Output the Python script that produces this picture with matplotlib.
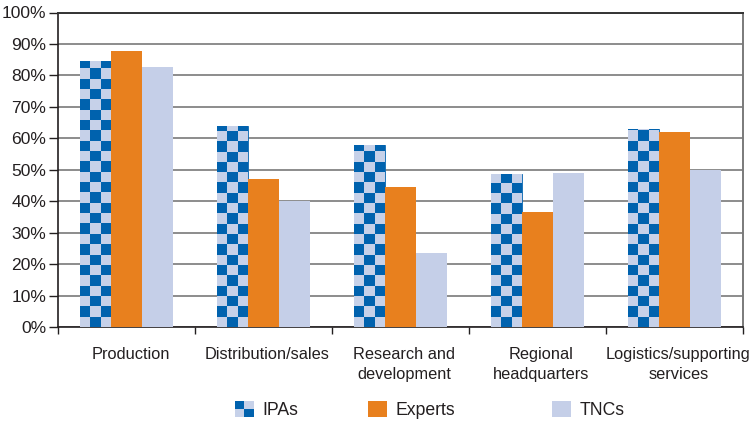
import numpy as np
import matplotlib
matplotlib.use("Agg")
import matplotlib.pyplot as plt
import matplotlib.transforms as mtransforms
from matplotlib.colors import ListedColormap
from matplotlib.patches import Rectangle
from matplotlib.legend_handler import HandlerBase

categories = ["Production", "Distribution/sales", "Research and\ndevelopment",
              "Regional\nheadquarters", "Logistics/supporting\nservices"]
ipas = [84.5, 63.8, 58.0, 48.6, 63.0]
experts = [87.7, 47.0, 44.5, 36.6, 62.0]
tncs = [82.6, 40.0, 23.5, 49.0, 50.0]
yticks = [0, 10, 20, 30, 40, 50, 60, 70, 80, 90, 100]
ytick_labels = [f"{v}%" for v in yticks]

DARK = "#0062AE"
LIGHT = "#C6D1E9"
ORANGE = "#E8801E"
TNC = "#C5CFE8"
GRID = "#8C8C8C"
TEXT = "#231F20"

plt.rcParams['font.family'] = ['Liberation Sans', 'DejaVu Sans']

fig = plt.figure(figsize=(7.53, 4.22), dpi=100)
ax = fig.add_axes([58 / 753, 1 - 327.3 / 422, (742.7 - 58) / 753, (327.3 - 12.5) / 422])

x = np.arange(len(categories))
w = 0.226
ax.set_xlim(-0.5, len(categories) - 0.5)
ax.set_ylim(0, 100)

b_ipa = ax.bar(x - w, ipas, w, color=LIGHT, edgecolor=DARK, linewidth=0.6, zorder=3)
ax.bar(x, experts, w, color=ORANGE, zorder=3)
ax.bar(x + w, tncs, w, color=TNC, zorder=3)

# checkerboard fill of IPA bars
fig.canvas.draw()
px_per_unit_y = ax.transData.transform((0, 1))[1] - ax.transData.transform((0, 0))[1]
px_per_unit_x = ax.transData.transform((1, 0))[0] - ax.transData.transform((0, 0))[0]
cmap = ListedColormap([LIGHT, DARK])
for rect in b_ipa:
    x0, bw, h = rect.get_x(), rect.get_width(), rect.get_height()
    sq_px = bw * px_per_unit_x / 3
    rowh = sq_px / px_per_unit_y
    n = int(np.ceil(h / rowh))
    arr = (np.add.outer(np.arange(n), np.arange(3)) % 2).astype(float)
    im = ax.imshow(arr, cmap=cmap, vmin=0, vmax=1, origin='lower', aspect='auto',
                   extent=(x0, x0 + bw, 0, n * rowh), interpolation='nearest', zorder=3.5)
    im.set_clip_path(rect)
ax.set_xlim(-0.5, len(categories) - 0.5)
ax.set_ylim(0, 100)

ax.set_yticks(yticks)
ax.set_yticklabels(ytick_labels, fontsize=12.6, color=TEXT)
ax.yaxis.grid(True, color=GRID, linewidth=1.4, zorder=0)
ax.set_axisbelow(True)
ax.tick_params(axis='y', length=6.5, width=1, pad=2, color=TEXT)

ax.set_xticks(x)
ax.set_xticklabels(categories, fontsize=11.8, color=TEXT, linespacing=1.45, va='top')
ax.set_xticks(np.arange(-0.5, len(categories)), minor=True)
ax.tick_params(axis='x', which='major', length=0, pad=14)
ax.tick_params(axis='x', which='minor', length=5, width=1, color=TEXT)
offset = mtransforms.ScaledTranslation(4 / 100, 0, fig.dpi_scale_trans)
for lab in ax.get_xticklabels():
    lab.set_transform(lab.get_transform() + offset)

for s in ['left', 'bottom']:
    ax.spines[s].set_color(TEXT)
    ax.spines[s].set_linewidth(1.2)
ax.spines['top'].set_color("#333333")
ax.spines['top'].set_linewidth(1.4)
ax.spines['right'].set_color("#7a7a7a")
ax.spines['right'].set_linewidth(1.4)


class CheckerHandler(HandlerBase):
    def create_artists(self, legend, orig_handle, xdescent, ydescent, width, height, fontsize, trans):
        arts = []
        hw, hh = width / 2, height / 2
        cols = [[LIGHT, DARK], [DARK, LIGHT]]  # rows bottom->top
        for r in range(2):
            for c in range(2):
                arts.append(Rectangle((-xdescent + c * hw, -ydescent + r * hh), hw, hh,
                                      facecolor=cols[r][c], edgecolor='none', transform=trans))
        return arts


class CheckerKey:
    pass


entries = [
    (CheckerKey(), "IPAs", 235),
    (Rectangle((0, 0), 1, 1, facecolor=ORANGE), "Experts", 368),
    (Rectangle((0, 0), 1, 1, facecolor=TNC), "TNCs", 552),
]
for handle, label, xpx in entries:
    fig.legend([handle], [label], loc='center left',
               bbox_to_anchor=(xpx / 753, 1 - 410 / 422), frameon=False,
               fontsize=12.7, handlelength=1.05, handleheight=1.05, handletextpad=0.5,
               borderpad=0, borderaxespad=0,
               handler_map={CheckerKey: CheckerHandler()},
               labelcolor=TEXT)

fig.savefig("out.png", dpi=100)
